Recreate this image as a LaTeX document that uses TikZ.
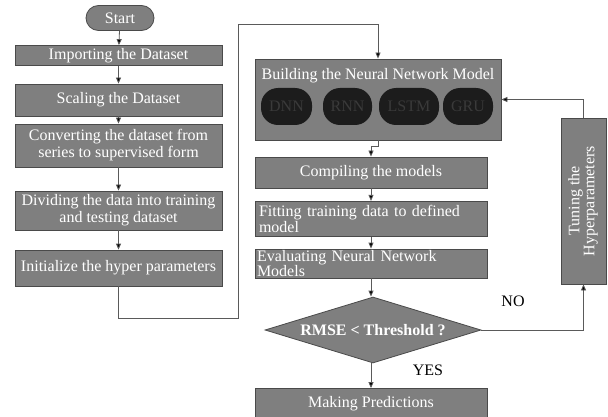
\documentclass[tikz,border=0pt]{standalone}
\usepackage{fontspec}
\setmainfont{Liberation Serif}
\usetikzlibrary{shapes.geometric,arrows.meta}
\definecolor{boxfill}{HTML}{7F7F7F}
\definecolor{boxline}{HTML}{4A4A4A}
\definecolor{pillfill}{HTML}{1C1C1C}
\definecolor{pilltext}{HTML}{3A3A3A}
\definecolor{connline}{HTML}{5A5A5A}
\begin{document}
\begin{tikzpicture}[x=1pt,y=-1pt,
  box/.style={draw=boxline, line width=0.8pt, fill=boxfill, text=white, inner sep=2pt,
    font=\fontsize{16}{17}\selectfont, align=center},
  lbox/.style={box, align=left, text width=224pt, inner sep=4pt},
  pill/.style={draw=none, fill=pillfill, text=pilltext, rounded corners=17pt, inner sep=0pt,
    minimum height=37pt, font=\fontsize{16}{17}\selectfont},
  conn/.style={draw=connline, line width=0.8pt, -{Triangle[length=6pt,width=5pt,fill=black]}},
  lab/.style={font=\fontsize{16}{17}\selectfont, text=black}
]
\useasboundingbox (0,0) rectangle (608,417);
% left column
\node[box, rounded corners=12.5pt, minimum width=68pt, minimum height=25pt] (start) at (120,18) {Start};
\node[box, minimum width=207pt, minimum height=20pt] (import) at (118.5,55.5) {Importing the Dataset};
\node[box, minimum width=207pt, minimum height=32pt] (scale) at (118.5,100) {Scaling the Dataset};
\node[box, minimum width=207pt, minimum height=43pt] (convert) at (118.5,145.5) {Converting the dataset from\\series to supervised form};
\node[box, minimum width=207pt, minimum height=39pt] (divide) at (118.5,210.5) {Dividing the data into training\\and testing dataset};
\node[box, minimum width=207pt, minimum height=36pt] (init) at (118.5,268) {Initialize the hyper parameters};
% right column
\node[box, minimum width=246pt, minimum height=81pt] (build) at (378,99.5) {};
\node[text=white, font=\fontsize{16}{17}\selectfont, inner sep=0pt] (buildtitle) at (378,76) {Building the Neural Network Model};
\node[pill, minimum width=51pt] (dnn) at (286.5,106.5) {DNN};
\node[pill, minimum width=49pt] (rnn) at (347.5,106.5) {RNN};
\node[pill, minimum width=60pt] (lstm) at (409,106.5) {LSTM};
\node[pill, minimum width=50pt] (gru) at (468,106.5) {GRU};
\node[box, minimum width=232pt, minimum height=31pt] (compile) at (371,172.5) {Compiling the models};
\node[lbox, minimum width=232pt, minimum height=32pt, font=\fontsize{16}{16}\selectfont] (fit) at (371,219) {Fitting training data to defined\\model};
\node[lbox, minimum width=232pt, minimum height=29pt, inner sep=1pt, text width=228pt, font=\fontsize{16}{14}\selectfont] (eval) at (371,263.5) {Evaluating Neural Network\\Models};
\node[box, diamond, aspect=3.27, minimum width=216pt, minimum height=66pt, inner sep=0pt, font=\bfseries\fontsize{16}{17}\selectfont] (dec) at (373,330) {RMSE < Threshold ?};
\node[box, minimum width=232pt, minimum height=31pt] (predict) at (371,404) {Making Predictions};
\node[box, minimum width=45pt, minimum height=166pt, inner sep=0pt] (tune) at (583.5,201) {\rotatebox{90}{\begin{tabular}{@{}c@{}}Tuning the\\[-2pt]Hyperparameters\end{tabular}}};
% labels
\node[lab] (no) at (513,301) {NO};
\node[lab] (yes) at (428,370) {YES};
% connectors
\coordinate (lp1) at (238,318);
\coordinate (lp2) at (238,24);
\draw[conn] (start) -- (import);
\draw[conn] (import) -- (scale);
\draw[conn] (scale) -- (convert);
\draw[conn] (convert) -- (divide);
\draw[conn] (divide) -- (init);
\draw[conn] (init.south) |- (lp1) -- (lp2) -| (build.north);
\draw[conn] (build.south) -- ++(0,6) -| (compile.north);
\draw[conn] (compile.south) -- (fit.north -| compile.south);
\draw[conn] (fit.south -| compile.south) -- (eval.north -| compile.south);
\draw[conn] (eval.south -| compile.south) -- (dec.north -| compile.south);
\draw[conn] (dec.south -| compile.south) -- (predict.north -| compile.south);
\draw[conn] (dec.east) -| (tune.south);
\draw[conn] (tune.north) |- (build.east);
\end{tikzpicture}
\end{document}
